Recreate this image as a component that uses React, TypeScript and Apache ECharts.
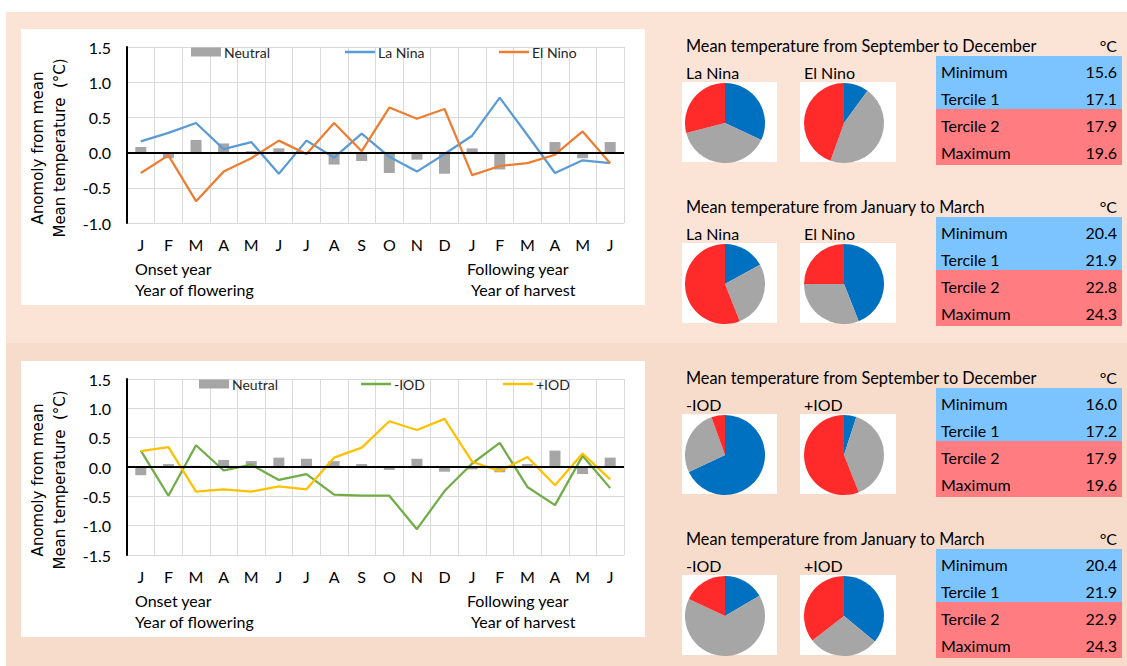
import { useEffect, useRef } from "react";
import * as echarts from "echarts";

// x axis: Jan of onset year to Jun of following year
const MONTHS = ["J", "F", "M", "A", "M", "J", "J", "A", "S", "O", "N", "D", "J", "F", "M", "A", "M", "J"];

// ENSO panel, anomaly from mean temperature (°C)
const ENSO_NEUTRAL = [0.08, -0.08, 0.18, 0.13, 0.02, 0.06, -0.02, -0.17, -0.12, -0.29, -0.1, -0.3, 0.06, -0.24, 0.0, 0.15, -0.08, 0.15];
const LA_NINA = [0.16, 0.28, 0.42, 0.05, 0.15, -0.3, 0.17, -0.07, 0.27, -0.06, -0.27, -0.02, 0.24, 0.78, 0.25, -0.29, -0.11, -0.15];
const EL_NINO = [-0.29, -0.04, -0.69, -0.27, -0.08, 0.17, -0.02, 0.42, 0.02, 0.64, 0.48, 0.62, -0.32, -0.19, -0.15, -0.03, 0.3, -0.15];

// IOD panel
const IOD_NEUTRAL = [-0.14, 0.05, 0.02, 0.12, 0.1, 0.16, 0.14, 0.1, 0.05, -0.05, 0.14, -0.08, -0.04, -0.09, 0.05, 0.28, -0.12, 0.16];
const IOD_NEGATIVE = [0.28, -0.49, 0.37, -0.06, 0.04, -0.22, -0.12, -0.47, -0.49, -0.49, -1.06, -0.41, 0.06, 0.41, -0.34, -0.65, 0.19, -0.36];
const IOD_POSITIVE = [0.27, 0.34, -0.42, -0.38, -0.42, -0.33, -0.38, 0.16, 0.33, 0.78, 0.63, 0.82, 0.09, -0.07, 0.17, -0.31, 0.23, -0.21];

// tercile tables (°C)
const TERCILE_LABELS = ["Minimum", "Tercile 1", "Tercile 2", "Maximum"];
const ENSO_SD_TERCILES = [15.6, 17.1, 17.9, 19.6];
const ENSO_JM_TERCILES = [20.4, 21.9, 22.8, 24.3];
const IOD_SD_TERCILES = [16.0, 17.2, 17.9, 19.6];
const IOD_JM_TERCILES = [20.4, 21.9, 22.9, 24.3];

// pie shares (%) : below tercile 1 / between / above tercile 2
const PIE_CLASSES = ["Below tercile 1", "Between terciles", "Above tercile 2"];
const LA_NINA_SD = [32, 39, 29];
const EL_NINO_SD = [10, 45.5, 44.5];
const LA_NINA_JM = [17, 27, 56];
const EL_NINO_JM = [44, 31, 25];
const IOD_NEG_SD = [68, 26.5, 5.5];
const IOD_POS_SD = [5, 39, 56];
const IOD_NEG_JM = [16.5, 65.5, 18];
const IOD_POS_JM = [36, 28.5, 35.5];

const FONT = "Lato, 'Noto Sans', sans-serif";
const PIE_COLORS = ["#0070C0", "#A6A6A6", "#FF2B2B"];
const GRID_COLOR = "#D9D9D9";

const SECTIONS = [
  { title: "Mean temperature from September to December", names: ["La Nina", "El Nino"], pies: [LA_NINA_SD, EL_NINO_SD], terciles: ENSO_SD_TERCILES },
  { title: "Mean temperature from January to March", names: ["La Nina", "El Nino"], pies: [LA_NINA_JM, EL_NINO_JM], terciles: ENSO_JM_TERCILES },
  { title: "Mean temperature from September to December", names: ["-IOD", "+IOD"], pies: [IOD_NEG_SD, IOD_POS_SD], terciles: IOD_SD_TERCILES },
  { title: "Mean temperature from January to March", names: ["-IOD", "+IOD"], pies: [IOD_NEG_JM, IOD_POS_JM], terciles: IOD_JM_TERCILES },
];
const SECTION_Y = [45, 206, 377, 538];

const PANELS = [
  { neutral: ENSO_NEUTRAL, min: -1, lines: [{ name: "La Nina", color: "#5B9BD5", data: LA_NINA }, { name: "El Nino", color: "#ED7D31", data: EL_NINO }] },
  { neutral: IOD_NEUTRAL, min: -1.5, lines: [{ name: "-IOD", color: "#70AD47", data: IOD_NEGATIVE }, { name: "+IOD", color: "#FFC000", data: IOD_POSITIVE }] },
];
const PANEL_OFFSET = [0, 332];

function text(x: number, y: number, str: string, size: number, extra: any = {}) {
  return {
    type: "text",
    x,
    y,
    z: 10,
    style: {
      text: str,
      fill: "#000",
      fontSize: size,
      fontFamily: FONT,
      textAlign: "left",
      textVerticalAlign: "middle",
      ...extra,
    },
  };
}

function buildOption() {
  const graphic: any[] = [
    { type: "rect", shape: { x: 6, y: 12, width: 1121, height: 331 }, style: { fill: "#FBE3D6" }, z: -20 },
    { type: "rect", shape: { x: 6, y: 343, width: 1121, height: 323 }, style: { fill: "#F8DCCB" }, z: -20 },
  ];
  const grid: any[] = [];
  const xAxis: any[] = [];
  const yAxis: any[] = [];
  const series: any[] = [];
  const legend: any[] = [];

  PANELS.forEach((p, i) => {
    const off = PANEL_OFFSET[i];
    graphic.push({ type: "rect", shape: { x: 21, y: 29 + off, width: 624, height: 276 }, style: { fill: "#fff" }, z: -10 });
    graphic.push({
      type: "text",
      x: 49,
      y: 148 + off,
      rotation: Math.PI / 2,
      z: 10,
      style: {
        text: "Anomoly from mean\nMean temperature  (°C)",
        fill: "#000",
        fontSize: 15,
        lineHeight: 22,
        fontFamily: "'DejaVu Sans', sans-serif",
        textAlign: "center",
        textVerticalAlign: "middle",
      },
    });
    graphic.push(text(135, 268 + off, "Onset year", 16));
    graphic.push(text(135, 289 + off, "Year of flowering", 16));
    graphic.push(text(467, 268 + off, "Following year", 16));
    graphic.push(text(471, 289 + off, "Year of harvest", 16));

    grid.push({ left: 127, top: 47 + off, width: 497, height: 176 });
    xAxis.push({
      gridIndex: i,
      type: "category",
      data: MONTHS,
      z: 1,
      axisLine: { show: false },
      axisTick: { show: false },
      axisLabel: { interval: 0, margin: 13, fontSize: 16, color: "#000", fontFamily: FONT },
      splitLine: { show: true, interval: 0, lineStyle: { color: GRID_COLOR, width: 1 } },
    });
    yAxis.push({
      gridIndex: i,
      type: "value",
      min: p.min,
      max: 1.5,
      interval: 0.5,
      z: 1,
      axisLine: { show: true, lineStyle: { color: "#000", width: 2 } },
      axisTick: { show: false },
      axisLabel: { margin: 16, fontSize: 16, color: "#000", fontFamily: FONT, formatter: (v: number) => v.toFixed(1) },
      splitLine: { lineStyle: { color: GRID_COLOR, width: 1 } },
    });
    series.push({
      type: "bar",
      name: "Neutral",
      xAxisIndex: i,
      yAxisIndex: i,
      data: p.neutral,
      barWidth: 11,
      itemStyle: { color: "#A6A6A6" },
      markLine: {
        silent: true,
        symbol: ["none", "none"],
        label: { show: false },
        lineStyle: { color: "#000", width: 2, type: "solid" },
        data: [{ yAxis: 0 }],
      },
    });
    p.lines.forEach((l) => {
      series.push({
        type: "line",
        name: l.name,
        xAxisIndex: i,
        yAxisIndex: i,
        data: l.data,
        symbol: "none",
        z: 3,
        lineStyle: { color: l.color, width: 2.25 },
        itemStyle: { color: l.color },
      });
    });

    const legendLeft = i === 0 ? [191, 345, 499] : [199, 361, 503];
    const names = ["Neutral", ...p.lines.map((l) => l.name)];
    names.forEach((n, k) => {
      legend.push({
        left: legendLeft[k],
        top: 45 + off,
        padding: 0,
        itemWidth: 30,
        itemHeight: k === 0 ? 9 : 2.5,
        itemGap: 0,
        selectedMode: false,
        textStyle: { fontSize: 14, color: "#262626", fontFamily: FONT, padding: [0, 0, 0, -2] },
        data: [{ name: n, icon: "rect" }],
      });
    });
  });

  SECTIONS.forEach((s, i) => {
    const t = SECTION_Y[i];
    graphic.push(text(686, t, s.title, 16.3));
    graphic.push(text(1117, t, "°C", 16, { textAlign: "right" }));
    graphic.push({ type: "rect", shape: { x: 936, y: t + 11, width: 186, height: 53 }, style: { fill: "#7CC4FF" }, z: -10 });
    graphic.push({ type: "rect", shape: { x: 936, y: t + 64, width: 186, height: 56 }, style: { fill: "#FF7C80" }, z: -10 });
    s.terciles.forEach((v, k) => {
      const ry = t + 26.5 + k * 27;
      graphic.push(text(941, ry, TERCILE_LABELS[k], 16));
      graphic.push(text(1117, ry, v.toFixed(1), 16, { textAlign: "right" }));
    });
    const boxX = [682, 800];
    const boxW = [95, 96];
    const cx = [725, 844];
    s.names.forEach((n, k) => {
      graphic.push(text(686 + k * 118, t + 27, n, 16));
      graphic.push({ type: "rect", shape: { x: boxX[k], y: t + 37, width: boxW[k], height: 80 }, style: { fill: "#fff" }, z: -10 });
      series.push({
        type: "pie",
        name: `${s.title} ${n}`,
        center: [cx[k], t + 78],
        radius: 40,
        startAngle: 90,
        clockwise: true,
        silent: true,
        label: { show: false },
        labelLine: { show: false },
        itemStyle: { borderWidth: 0 },
        data: PIE_CLASSES.map((c, j) => ({ name: c, value: s.pies[k][j], itemStyle: { color: PIE_COLORS[j] } })),
      });
    });
  });

  return { animation: false, backgroundColor: "#fff", graphic, grid, xAxis, yAxis, series, legend };
}

export default function App() {
  const ref = useRef<HTMLDivElement>(null);

  useEffect(() => {
    if (!ref.current) return;
    const chart = echarts.init(ref.current, undefined, { renderer: "svg" });
    chart.setOption(buildOption());
    return () => chart.dispose();
  }, []);

  return <div ref={ref} style={{ position: "fixed", left: 0, top: 0, width: 1127, height: 666 }} />;
}
